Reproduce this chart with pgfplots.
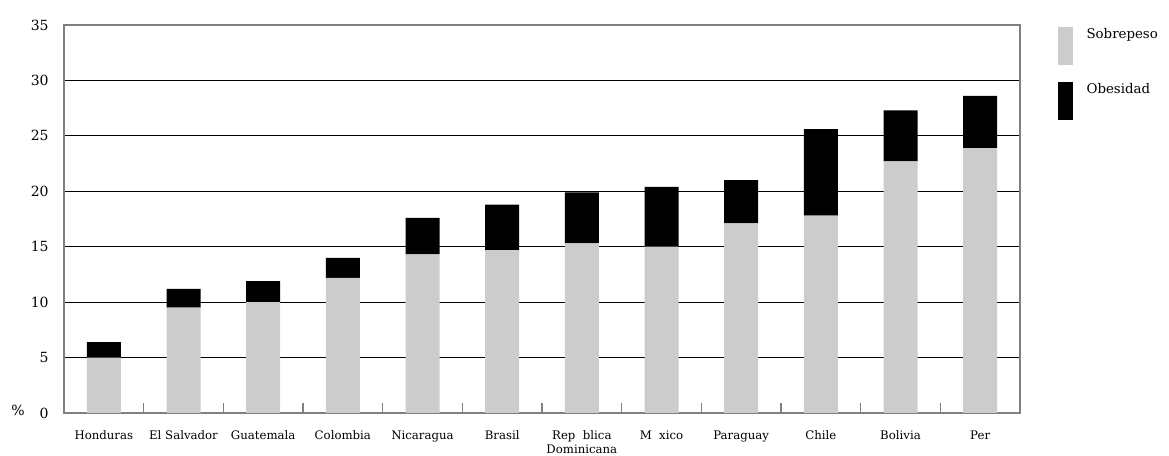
\documentclass[border=0pt]{standalone}
\usepackage{fontspec}
\setmainfont{DejaVu Serif}
\usepackage{pgfplots}
\pgfplotsset{compat=1.18}
\definecolor{sobre}{HTML}{CCCCCC}
\definecolor{axisgray}{HTML}{808080}

\begin{document}
\begin{tikzpicture}
% canvas of 1169 x 456 units at 0.75pt each
\useasboundingbox (0pt,0pt) rectangle (876.75pt,342pt);
\begin{axis}[
  at={(48pt,32.25pt)}, anchor=south west,
  scale only axis, width=717pt, height=291pt,
  ybar stacked, bar width=25.5pt,
  xmin=-0.5, xmax=11.5, ymin=0, ymax=35,
  xtick={0,...,11},
  xticklabels={Honduras, El Salvador, Guatemala, Colombia, Nicaragua, Brasil,
    {Rep\ \ blica\\Dominicana}, {M\ \ xico}, Paraguay, Chile, Bolivia, Per},
  minor xtick={0.5,1.5,...,10.5},
  xtick pos=bottom, ytick pos=left,
  major tick length=0pt, minor tick length=7.5pt,
  tick align=inside,
  minor tick style={axisgray, line width=0.8pt},
  ytick={0,5,...,35},
  ymajorgrids,
  major grid style={black, line width=0.65pt},
  axis line style={axisgray, line width=1pt},
  /pgf/number format/assume math mode=true,
  yticklabel style={font=\fontsize{10.5}{11}\selectfont, xshift=-8pt},
  xticklabel style={font=\fontsize{8.8}{10.5}\selectfont, align=center, yshift=-10pt},
  legend style={at={(1.0397,1)}, anchor=north west, draw=none, fill=none,
    inner sep=0pt, row sep=12pt, column sep=8pt,
    font=\fontsize{10}{12}\selectfont},
  legend cell align=left,
  clip=false,
]
\addplot+[fill=sobre, draw=none,
  legend image code/.code={\fill[sobre] (0pt,-23pt) rectangle (11.25pt,5.5pt);}]
  coordinates {(0,5.0) (1,9.5) (2,10.0) (3,12.2) (4,14.3) (5,14.7)
               (6,15.3) (7,15.0) (8,17.1) (9,17.8) (10,22.7) (11,23.9)};
\addlegendentry{Sobrepeso}
\addplot+[fill=black, draw=none,
  legend image code/.code={\fill[black] (0pt,-23pt) rectangle (11.25pt,5.5pt);}]
  coordinates {(0,1.4) (1,1.7) (2,1.9) (3,1.8) (4,3.3) (5,4.1)
               (6,4.6) (7,5.4) (8,3.9) (9,7.8) (10,4.6) (11,4.7)};
\addlegendentry{Obesidad}
\node[font=\fontsize{10.5}{11}\selectfont] at (rel axis cs:-0.048,0.007) {\%};
\end{axis}
\end{tikzpicture}
\end{document}
